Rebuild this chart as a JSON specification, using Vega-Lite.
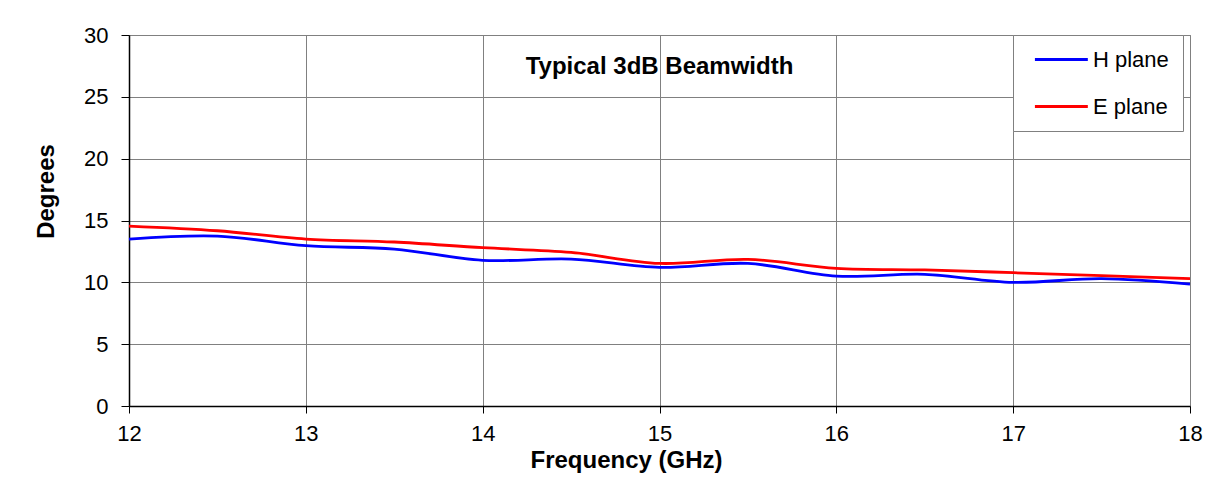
{
  "$schema": "https://vega.github.io/schema/vega-lite/v6.json",
  "width": 1061,
  "height": 371,
  "autosize": "none",
  "padding": {"left": 129, "top": 35, "right": 22, "bottom": 71},
  "background": "white",
  "title": {
    "text": "Typical 3dB Beamwidth",
    "font": "Liberation Sans",
    "fontSize": 24,
    "fontWeight": "bold",
    "color": "black",
    "anchor": "middle",
    "frame": "group",
    "baseline": "alphabetic",
    "offset": 0,
    "dy": 74
  },
  "data": {
    "values": [
      {"frequency": 12.0, "degrees": 13.5, "plane": "H plane"},
      {"frequency": 12.5, "degrees": 13.74, "plane": "H plane"},
      {"frequency": 13.0, "degrees": 12.96, "plane": "H plane"},
      {"frequency": 13.5, "degrees": 12.69, "plane": "H plane"},
      {"frequency": 14.0, "degrees": 11.78, "plane": "H plane"},
      {"frequency": 14.5, "degrees": 11.88, "plane": "H plane"},
      {"frequency": 15.0, "degrees": 11.21, "plane": "H plane"},
      {"frequency": 15.5, "degrees": 11.53, "plane": "H plane"},
      {"frequency": 16.0, "degrees": 10.51, "plane": "H plane"},
      {"frequency": 16.5, "degrees": 10.65, "plane": "H plane"},
      {"frequency": 17.0, "degrees": 10.0, "plane": "H plane"},
      {"frequency": 17.5, "degrees": 10.3, "plane": "H plane"},
      {"frequency": 18.0, "degrees": 9.86, "plane": "H plane"},
      {"frequency": 12.0, "degrees": 14.55, "plane": "E plane"},
      {"frequency": 12.5, "degrees": 14.17, "plane": "E plane"},
      {"frequency": 13.0, "degrees": 13.5, "plane": "E plane"},
      {"frequency": 13.5, "degrees": 13.26, "plane": "E plane"},
      {"frequency": 14.0, "degrees": 12.8, "plane": "E plane"},
      {"frequency": 14.5, "degrees": 12.42, "plane": "E plane"},
      {"frequency": 15.0, "degrees": 11.53, "plane": "E plane"},
      {"frequency": 15.5, "degrees": 11.86, "plane": "E plane"},
      {"frequency": 16.0, "degrees": 11.13, "plane": "E plane"},
      {"frequency": 16.5, "degrees": 11.0, "plane": "E plane"},
      {"frequency": 17.0, "degrees": 10.78, "plane": "E plane"},
      {"frequency": 17.5, "degrees": 10.54, "plane": "E plane"},
      {"frequency": 18.0, "degrees": 10.3, "plane": "E plane"}
    ]
  },
  "mark": {"type": "line", "interpolate": "catmull-rom", "strokeWidth": 2.8},
  "encoding": {
    "x": {
      "field": "frequency",
      "type": "quantitative",
      "scale": {"domain": [12, 18], "nice": false, "zero": false},
      "axis": {
        "values": [12, 13, 14, 15, 16, 17, 18],
        "title": "Frequency (GHz)",
        "tickSize": 7,
        "labelPadding": 10,
        "labelFlush": false,
        "titleX": 497,
        "titleY": 61,
        "titleAlign": "center",
        "titleBaseline": "alphabetic"
      }
    },
    "y": {
      "field": "degrees",
      "type": "quantitative",
      "scale": {"domain": [0, 30], "nice": false},
      "axis": {
        "values": [0, 5, 10, 15, 20, 25, 30],
        "title": "Degrees",
        "tickSize": 8,
        "labelPadding": 13,
        "labelFlush": false,
        "titleX": -76,
        "titleY": 156,
        "titleAlign": "center",
        "titleBaseline": "alphabetic"
      }
    },
    "color": {
      "field": "plane",
      "type": "nominal",
      "scale": {"domain": ["H plane", "E plane"], "range": ["#0000ff", "#ff0000"]},
      "legend": {
        "orient": "none",
        "legendX": 884,
        "legendY": 0,
        "title": null,
        "fillColor": "white",
        "strokeColor": "#808080",
        "padding": 13.5,
        "rowPadding": 25,
        "symbolType": "M-2,0H8",
        "symbolSize": 112,
        "symbolStrokeWidth": 2.8,
        "symbolOffset": 8,
        "labelOffset": 36.5,
        "labelFont": "Liberation Sans",
        "labelFontSize": 22,
        "labelColor": "black"
      }
    }
  },
  "config": {
    "view": {"stroke": "#808080", "strokeWidth": 1},
    "axis": {
      "labelFont": "Liberation Sans",
      "labelFontSize": 22,
      "labelColor": "black",
      "tickColor": "black",
      "domainColor": "black",
      "domainWidth": 1.5,
      "gridColor": "#808080",
      "gridWidth": 1,
      "gridOpacity": 1,
      "titleFont": "Liberation Sans",
      "titleFontSize": 24,
      "titleFontWeight": "bold",
      "titleColor": "black"
    }
  }
}
